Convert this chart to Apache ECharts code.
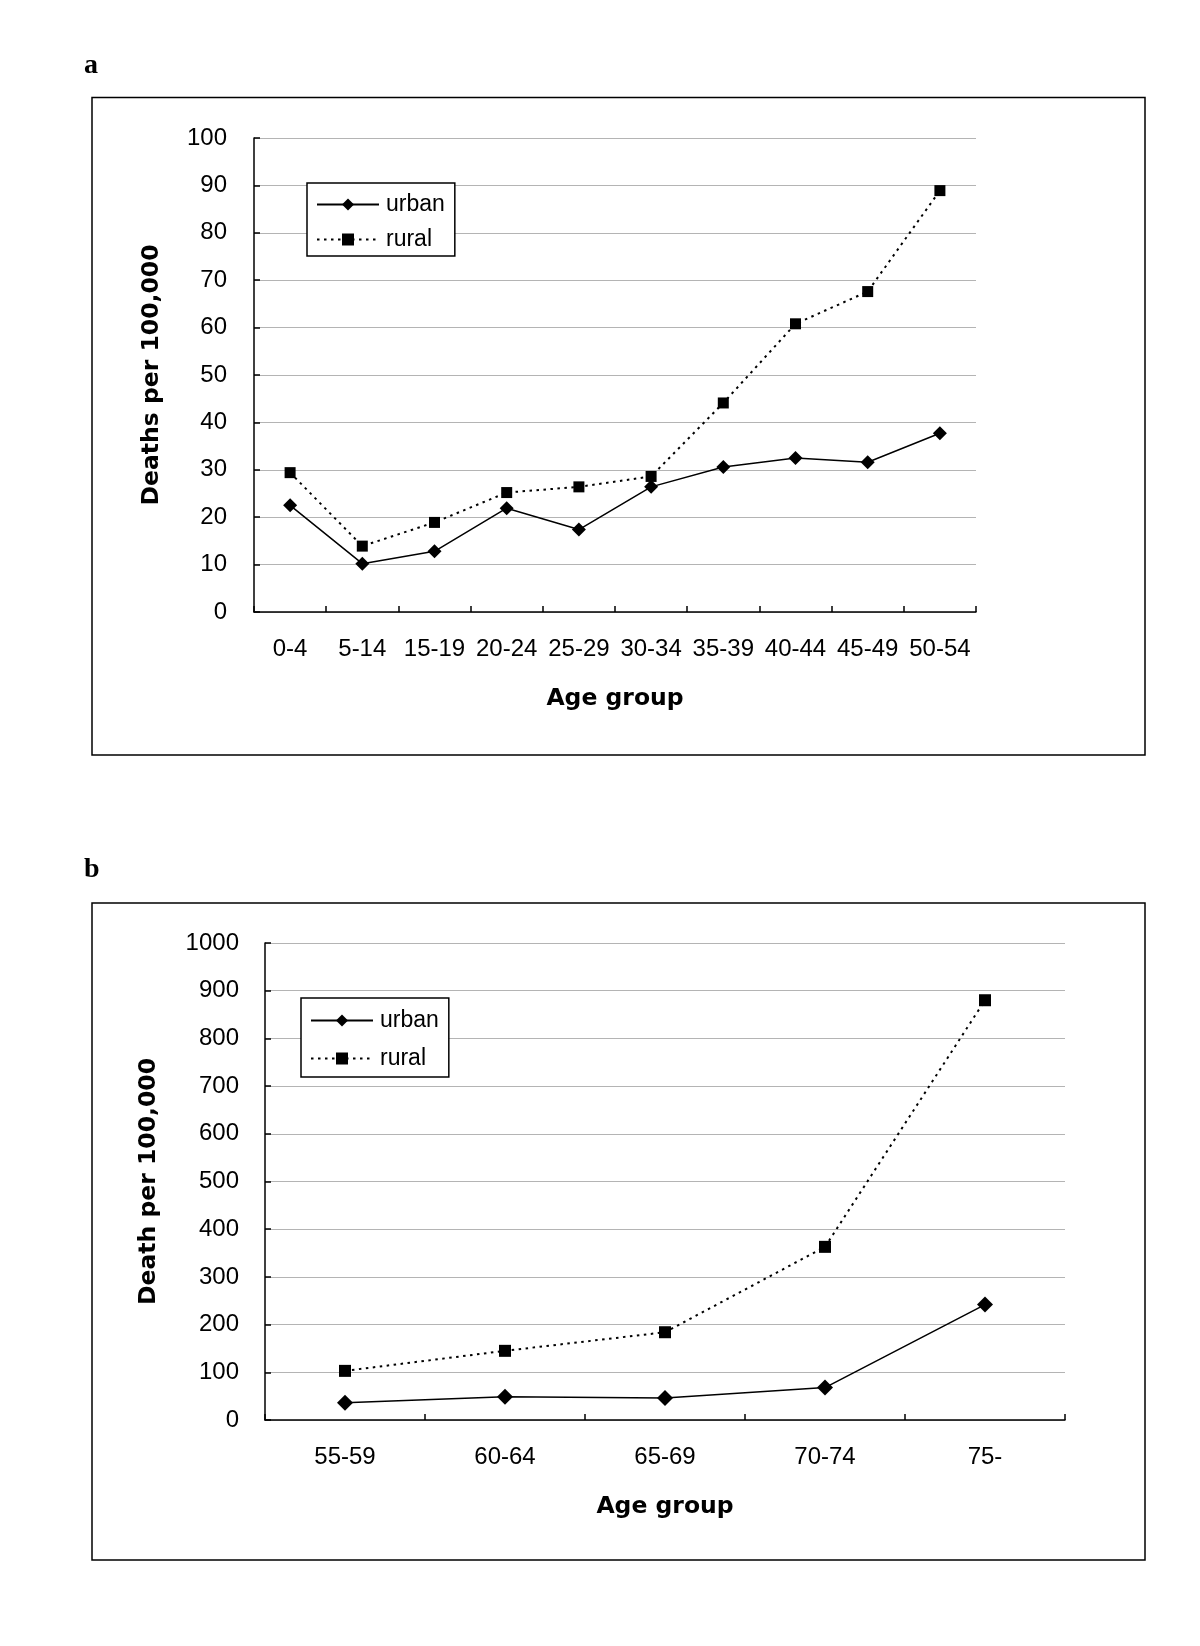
<!DOCTYPE html>
<html>
<head>
<meta charset="utf-8">
<script src="https://cdn.jsdelivr.net/npm/echarts@6/dist/echarts.min.js"></script>
<style>
html,body{margin:0;padding:0;background:#fff;}
#chart{width:1200px;height:1646px;}
</style>
</head>
<body>
<div id="chart"></div>
<script>
// ---- Data ----
const categoriesA = ['0-4','5-14','15-19','20-24','25-29','30-34','35-39','40-44','45-49','50-54'];
const urbanA = [22.5, 10.2, 12.8, 21.9, 17.4, 26.4, 30.6, 32.5, 31.6, 37.7];
const ruralA = [29.4, 13.9, 18.9, 25.2, 26.4, 28.6, 44.1, 60.8, 67.6, 88.9];

const categoriesB = ['55-59','60-64','65-69','70-74','75-'];
const urbanB = [36, 49, 46, 68, 242];
const ruralB = [103, 145, 184, 363, 880];

const yAxisA = {min: 0, max: 100, interval: 10};
const yAxisB = {min: 0, max: 1000, interval: 100};

const seriesNames = ['urban', 'rural'];
const panelLabels = ['a', 'b'];
const yTitles = ['Deaths per 100,000', 'Death per 100,000'];
const xTitle = 'Age group';

// ---- Styles ----
const tickFont = {fontFamily: '"Liberation Sans", Arial, sans-serif', fontSize: 24, color: '#000'};
const titleFont = {fontFamily: '"DejaVu Sans", Verdana, sans-serif', fontSize: 23.5, fontWeight: 'bold', color: '#000'};

function xAxisCfg(gridIndex, cats, nameGap) {
  return {
    type: 'category', gridIndex, data: cats, boundaryGap: true,
    name: xTitle, nameLocation: 'middle', nameGap, nameTextStyle: titleFont,
    axisLine: {show: true, lineStyle: {color: '#000', width: 1.5}},
    axisTick: {show: true, inside: true, length: 6, lineStyle: {color: '#000', width: 1.5}},
    axisLabel: Object.assign({margin: 25, interval: 0}, tickFont),
    splitLine: {show: false}
  };
}
function yAxisCfg(gridIndex, range, name, nameGap, margin) {
  return {
    type: 'value', gridIndex, min: range.min, max: range.max, interval: range.interval,
    name, nameLocation: 'middle', nameGap, nameTextStyle: titleFont,
    axisLine: {show: true, lineStyle: {color: '#000', width: 1.5}},
    axisTick: {show: true, inside: true, length: 6, lineStyle: {color: '#000', width: 1.5}},
    axisLabel: Object.assign({margin, formatter: v => String(v)}, tickFont),
    splitLine: {show: true, lineStyle: {color: '#b4b4b4', width: 1}}
  };
}
function urbanSeries(xi, data, size) {
  return {
    name: seriesNames[0], type: 'line', xAxisIndex: xi, yAxisIndex: xi, data,
    symbol: 'diamond', symbolSize: size, showSymbol: true,
    itemStyle: {color: '#000'}, lineStyle: {color: '#000', width: 1.5, type: 'solid'},
    emphasis: {disabled: true}, animation: false, z: 3
  };
}
function ruralSeries(xi, data, size) {
  return {
    name: seriesNames[1], type: 'line', xAxisIndex: xi, yAxisIndex: xi, data,
    symbol: 'rect', symbolSize: size, showSymbol: true,
    itemStyle: {color: '#000'}, lineStyle: {color: '#000', width: 2, type: [2.5, 4.5]},
    emphasis: {disabled: true}, animation: false, z: 3
  };
}
function legendCfg(left, top, gap, padding) {
  return {
    orient: 'vertical', left, top, padding, itemGap: gap,
    itemWidth: 62, itemHeight: 15, selectedMode: false,
    borderColor: '#000', borderWidth: 1.5, backgroundColor: '#fff',
    data: seriesNames,
    textStyle: {fontFamily: '"Liberation Sans", Arial, sans-serif', fontSize: 23, color: '#000', padding: [0, 0, 0, 2]}
  };
}

const chart = echarts.init(document.getElementById('chart'), null, {renderer: 'canvas'});
chart.setOption({
  backgroundColor: '#fff',
  animation: false,
  grid: [
    {left: 254, top: 138, width: 722, height: 474},
    {left: 265, top: 943, width: 800, height: 477}
  ],
  xAxis: [xAxisCfg(0, categoriesA, 75), xAxisCfg(1, categoriesB, 75)],
  yAxis: [yAxisCfg(0, yAxisA, yTitles[0], 90, 27), yAxisCfg(1, yAxisB, yTitles[1], 104, 26)],
  legend: [legendCfg(307, 183, 12, [10, 10, 5, 9]), legendCfg(301, 998, 15, [11, 10, 7, 9])],
  series: [
    urbanSeries(0, urbanA, 14), ruralSeries(0, ruralA, 11),
    urbanSeries(1, urbanB, 16), ruralSeries(1, ruralB, 12)
  ],
  graphic: [
    {type: 'rect', shape: {x: 92, y: 97.5, width: 1053, height: 657.5}, style: {fill: 'none', stroke: '#000', lineWidth: 1.5}, z: -1, silent: true},
    {type: 'rect', shape: {x: 92, y: 903, width: 1053, height: 657}, style: {fill: 'none', stroke: '#000', lineWidth: 1.5}, z: -1, silent: true},
    {type: 'text', left: 84, top: 52, style: {text: panelLabels[0], font: 'bold 28px "Liberation Serif", "Times New Roman", serif', fill: '#000'}, silent: true},
    {type: 'text', left: 84, top: 856, style: {text: panelLabels[1], font: 'bold 28px "Liberation Serif", "Times New Roman", serif', fill: '#000'}, silent: true}
  ]
});
</script>
</body>
</html>
